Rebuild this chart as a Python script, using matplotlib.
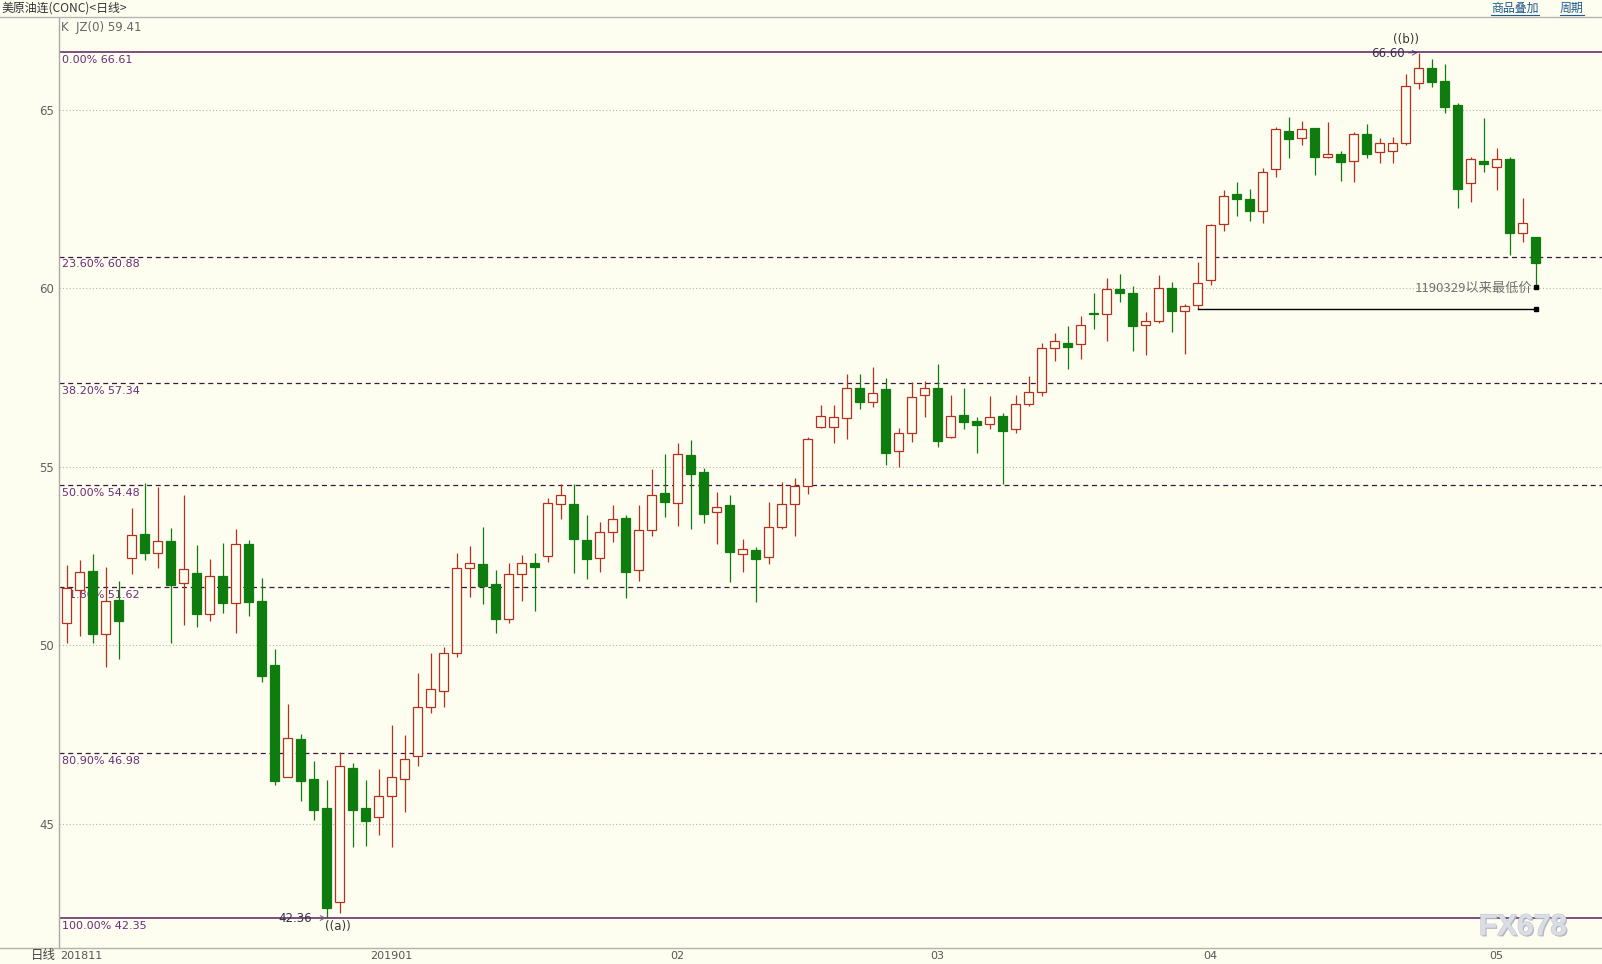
import matplotlib
matplotlib.use('Agg')
import matplotlib.pyplot as plt
from matplotlib.patches import Rectangle
from matplotlib.lines import Line2D
import matplotlib.transforms as mtransforms
import matplotlib.patheffects as pe
from matplotlib import font_manager

_names = {f.name for f in font_manager.fontManager.ttflist}
NARROW = ['Liberation Sans Narrow', 'DejaVu Sans'] if 'Liberation Sans Narrow' in _names else ['DejaVu Sans']
CJK = ['Noto Sans CJK SC', 'DejaVu Sans']

# ---------------- data (daily candles, 2018-11-26 .. 2019-05) ----------------
opens = [50.61, 51.55, 52.08, 50.31, 51.27, 52.44, 53.12, 52.58, 52.92, 51.74,
         52.02, 50.87, 51.93, 51.18, 52.83, 51.24, 49.45, 46.30, 47.38, 46.25,
         45.43, 42.82, 46.55, 45.43, 45.20, 45.79, 46.25, 46.90, 48.28, 48.71,
         49.77, 52.16, 52.28, 51.72, 50.74, 51.99, 52.30, 52.51, 53.95, 53.96,
         52.95, 52.44, 53.16, 53.56, 52.11, 53.23, 54.26, 53.99, 55.32, 54.85,
         53.72, 53.93, 52.57, 52.67, 52.46, 53.32, 53.95, 54.47, 56.12, 56.12,
         56.37, 57.22, 56.82, 57.17, 55.45, 55.94, 57.00, 57.20, 55.82, 56.44,
         56.27, 56.19, 56.42, 56.05, 56.75, 57.08, 58.34, 58.48, 58.43, 59.31,
         59.27, 59.97, 59.86, 58.96, 59.09, 60.02, 59.37, 59.52, 60.23, 61.79,
         62.64, 62.50, 62.15, 63.33, 64.41, 64.20, 64.48, 63.69, 63.75, 63.57,
         64.31, 63.83, 63.85, 64.06, 65.74, 66.16, 65.81, 65.13, 62.94, 63.57,
         63.39, 63.62, 61.54, 61.43]
highs = [52.25, 52.39, 52.55, 52.20, 51.80, 53.84, 54.54, 54.44, 53.28, 54.21,
         52.81, 52.42, 52.87, 53.26, 52.95, 51.88, 49.90, 48.35, 47.51, 46.76,
         46.23, 47.00, 46.69, 46.23, 46.53, 47.77, 47.49, 49.21, 49.77, 49.94,
         52.58, 52.78, 53.30, 52.11, 52.30, 52.53, 52.58, 54.12, 54.52, 54.52,
         53.65, 53.46, 53.93, 53.65, 53.93, 54.93, 55.36, 55.66, 55.75, 54.96,
         54.28, 54.21, 52.97, 52.76, 54.02, 54.58, 54.68, 55.84, 56.73, 56.73,
         57.60, 57.60, 57.80, 57.50, 56.08, 57.38, 57.41, 57.88, 57.01, 57.20,
         56.40, 56.98, 56.50, 57.01, 57.54, 58.47, 58.74, 58.94, 59.22, 59.87,
         60.28, 60.40, 60.06, 59.34, 60.37, 60.18, 59.56, 60.74, 61.80, 62.75,
         62.99, 62.78, 63.36, 64.51, 64.81, 64.69, 64.50, 64.67, 63.85, 64.37,
         64.59, 64.22, 64.25, 65.99, 66.60, 66.41, 66.28, 65.18, 63.69, 64.76,
         63.94, 63.67, 62.52, 61.43]
lows = [50.07, 50.27, 50.05, 49.40, 49.62, 51.99, 52.39, 52.16, 50.05, 50.57,
        50.52, 50.68, 50.91, 50.33, 50.83, 48.98, 46.09, 46.30, 45.65, 45.11,
        42.36, 42.51, 44.36, 44.38, 44.69, 44.34, 45.34, 46.63, 48.09, 48.28,
        49.68, 51.36, 51.16, 50.35, 50.61, 51.24, 50.97, 52.34, 53.53, 52.02,
        51.85, 52.06, 52.90, 51.32, 51.80, 53.06, 53.60, 53.35, 53.27, 53.43,
        52.85, 51.78, 52.06, 51.22, 52.27, 53.25, 53.07, 54.23, 56.08, 55.66,
        55.77, 56.62, 56.68, 55.05, 55.00, 55.70, 56.40, 55.54, 55.80, 56.05,
        55.39, 56.07, 54.52, 55.94, 56.71, 56.98, 57.97, 57.73, 58.03, 58.87,
        58.53, 59.62, 58.25, 58.13, 59.02, 58.78, 58.16, 59.41, 60.09, 61.59,
        62.03, 61.87, 61.82, 63.11, 63.66, 64.01, 63.17, 63.64, 63.01, 62.97,
        63.64, 63.52, 63.52, 64.01, 65.57, 65.65, 64.90, 62.26, 62.43, 63.27,
        62.75, 60.93, 61.29, 60.03]
closes = [51.61, 52.06, 50.31, 51.25, 50.68, 53.08, 52.59, 52.91, 51.70, 52.13,
          50.87, 51.95, 51.17, 52.83, 51.22, 49.14, 46.21, 47.39, 46.21, 45.39,
          42.65, 46.62, 45.39, 45.09, 45.79, 46.32, 46.81, 48.28, 48.77, 49.77,
          52.16, 52.30, 51.67, 50.74, 51.99, 52.30, 52.20, 53.98, 54.21, 52.97,
          52.41, 53.16, 53.53, 52.06, 53.23, 54.21, 54.00, 55.35, 54.81, 53.69,
          53.88, 52.60, 52.69, 52.43, 53.32, 53.95, 54.47, 55.78, 56.43, 56.40,
          57.22, 56.82, 57.06, 55.39, 55.95, 56.96, 57.22, 55.73, 56.43, 56.26,
          56.18, 56.38, 56.01, 56.75, 57.08, 58.32, 58.52, 58.36, 58.96, 59.27,
          59.97, 59.86, 58.95, 59.07, 60.02, 59.37, 59.50, 60.16, 61.77, 62.59,
          62.49, 62.15, 63.25, 64.46, 64.18, 64.46, 63.69, 63.75, 63.55, 64.31,
          63.75, 64.06, 64.06, 65.67, 66.16, 65.77, 65.09, 62.78, 63.61, 63.47,
          63.61, 61.54, 61.84, 60.72]

fib_pcts = [0.0, 23.6, 38.2, 50.0, 61.8, 80.9, 100.0]
fib_levels = [66.61, 60.88, 57.34, 54.48, 51.62, 46.98, 42.35]

month_pos = [25, 47, 67, 88, 110]
month_labels = ['201901', '02', '03', '04', '05']
first_month_label = '201811'

y_ticks = [45, 50, 55, 60, 65]

low_a_idx, low_a_val = 20, 42.36
high_b_idx, high_b_val = 104, 66.60
support_start_idx, support_end_idx, support_val = 87, 113, 59.41
last_low_idx, last_low_val = 113, 60.03
last_close_val = 59.41

# ---------------- style ----------------
BG = '#fefef0'
UP = '#b5311f'
DOWN = '#0e7c0e'
W, H = 1602, 964

fig = plt.figure(figsize=(W / 100, H / 100), dpi=100, facecolor=BG)
ax_left, ax_right, ax_top, ax_bot = 59, 1602, 18, 948
ax = fig.add_axes([ax_left / W, 1 - ax_bot / H, (ax_right - ax_left) / W, (ax_bot - ax_top) / H])
ax.set_facecolor(BG)

ax.set_xlim(-0.592, 118.1)
ax.set_ylim(41.52, 67.57)

# grid
ax.set_yticks(y_ticks)
ax.set_yticklabels([str(v) for v in y_ticks])
ax.set_xticks([])
ax.tick_params(axis='y', length=0, pad=3.6, labelcolor='#606060', labelsize=8.5)
ax.yaxis.grid(True, linestyle=(0, (1, 2)), color='#b4b4a4', lw=0.8)
ax.set_axisbelow(True)
for s in ['top', 'right', 'bottom']:
    ax.spines[s].set_visible(False)
ax.spines['left'].set_color('#a8a8a8')
ax.spines['left'].set_linewidth(1.0)

# fib lines and labels
tr_lab = mtransforms.blended_transform_factory(ax.transAxes, ax.transData)
for p, lv in zip(fib_pcts, fib_levels):
    if p in (0.0, 100.0):
        ax.axhline(lv, color='#5a1f5a', lw=1.1, zorder=1)
    else:
        ax.axhline(lv, color='#3a1840', lw=0.9, linestyle=(0, (4, 3)), zorder=1)
    ax.annotate('%.2f%% %.2f' % (p, lv), xy=(0.002, lv), xycoords=tr_lab,
                xytext=(0, -1.8), textcoords='offset points', ha='left', va='top',
                fontsize=8, color='#6b2b7b', family=NARROW, zorder=1.5)

# candles
bw = 0.73
for i, (o, h, l, c) in enumerate(zip(opens, highs, lows, closes)):
    up = c >= o
    col = UP if up else DOWN
    ax.vlines(i, l, h, color=col, lw=0.9, zorder=3)
    bottom = min(o, c)
    height = max(abs(c - o), 0.03)
    ax.add_patch(Rectangle((i - bw / 2, bottom), bw, height,
                           facecolor=BG if up else DOWN, edgecolor=col,
                           lw=0.9, zorder=4))

# support line since 2019-03-29
ax.plot([support_start_idx, support_end_idx], [support_val, support_val],
        color='black', lw=1.0, zorder=5)
ax.plot([support_end_idx], [support_val], 's', ms=2.6, color='black', zorder=6)
ax.plot([last_low_idx], [last_low_val], 's', ms=2.6, color='black', zorder=6)
ax.annotate('1190329以来最低价', xy=(last_low_idx, 60.01), xytext=(-2.5, 0),
            textcoords='offset points', ha='right', va='center',
            fontsize=9.5, color='#707070', family=CJK, zorder=6)

# wave annotations
ax.annotate('42.36', xy=(low_a_idx, low_a_val), xytext=(-10.4, 0),
            textcoords='offset points', ha='right', va='center',
            fontsize=8.5, color='#303050', family=NARROW, zorder=6,
            arrowprops=dict(arrowstyle='->', color='#6a5a8a', lw=0.7,
                            shrinkA=0.5, shrinkB=0.5))
ax.annotate('((a))', xy=(low_a_idx, low_a_val), xytext=(-1.5, -1.5),
            textcoords='offset points', ha='left', va='top',
            fontsize=8.5, color='#333333', family=NARROW, zorder=6)
ax.annotate('66.60', xy=(high_b_idx, high_b_val), xytext=(-10.0, -0.5),
            textcoords='offset points', ha='right', va='center',
            fontsize=8.5, color='#303050', family=NARROW, zorder=0.9,
            arrowprops=dict(arrowstyle='->', color='#6a5a8a', lw=0.7,
                            shrinkA=0.5, shrinkB=0.5))
ax.annotate('((b))', xy=(high_b_idx, high_b_val), xytext=(0.5, 4.5),
            textcoords='offset points', ha='right', va='bottom',
            fontsize=8.5, color='#333333', family=NARROW, zorder=6)

# frame lines
fig.add_artist(Line2D([0, 1], [1 - 17 / H] * 2, transform=fig.transFigure,
                      color='#b4b4b4', lw=1.0))
fig.add_artist(Line2D([0, 1], [1 - 948 / H] * 2, transform=fig.transFigure,
                      color='#b4b4a4', lw=1.0))

# header texts
fig.text(1 / W, 1 - 8 / H, '美原油连(CONC)<日线>', ha='left', va='center',
         fontsize=8.6, color='#333333', family=CJK)
fig.text(61 / W, 1 - 27 / H, 'K  JZ(0) %.2f' % last_close_val, ha='left', va='center',
         fontsize=8.5, color='#666666', family=NARROW)
for label, x0, x1 in [('商品叠加', 1491, 1539), ('周期', 1560, 1584)]:
    fig.text(x0 / W, 1 - 8 / H, label, ha='left', va='center',
             fontsize=8.6, color='#1f5a8f', family=CJK)
    fig.add_artist(Line2D([x0 / W, x1 / W], [1 - 14.5 / H] * 2,
                          transform=fig.transFigure, color='#1f5a8f', lw=0.8))

# date axis labels
tr_date = mtransforms.blended_transform_factory(ax.transData, fig.transFigure)
yb = 1 - 956 / H
fig.text(60 / W, yb, first_month_label, ha='left', va='center',
         fontsize=8, color='#555555', family=NARROW)
for pos, lab in zip(month_pos, month_labels):
    ax.text(pos, yb, lab, transform=tr_date, ha='center', va='center',
            fontsize=8, color='#555555', family=NARROW, clip_on=False)
fig.text(31 / W, yb, '日线', ha='left', va='center', fontsize=9,
         color='#444444', family=CJK)

# watermark
wm_fam = ['Liberation Sans', 'DejaVu Sans'] if 'Liberation Sans' in _names else ['DejaVu Sans']
fig.text(1523 / W, 1 - 927 / H, 'FX678', ha='center', va='center', fontsize=21.5,
         fontweight='bold', color='#dadde5', family=wm_fam, zorder=10,
         path_effects=[pe.SimplePatchShadow(offset=(1, -1), shadow_rgbFace='#a8adb8', alpha=0.9),
                       pe.withStroke(linewidth=0.8, foreground='#c4c8d2')])

fig.savefig('out.png', dpi=100, facecolor=BG)
